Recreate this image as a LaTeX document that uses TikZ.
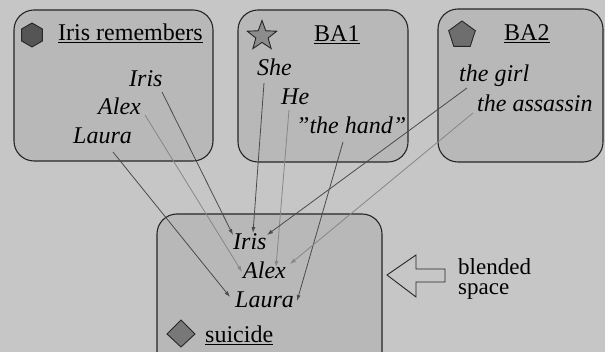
\documentclass[tikz,border=0pt]{standalone}
\usepackage{fontspec}
\setmainfont{Liberation Serif}
\usetikzlibrary{shapes.geometric,arrows.meta,calc}
\definecolor{bggray}{RGB}{198,198,198}
\definecolor{boxgray}{RGB}{184,184,184}
\definecolor{darkline}{RGB}{75,75,75}
\definecolor{lightline}{RGB}{135,135,135}
\definecolor{hexgray}{RGB}{85,85,85}
\definecolor{stargray}{RGB}{140,140,140}
\definecolor{pentgray}{RGB}{110,110,110}
\definecolor{diagray}{RGB}{120,120,120}
\begin{document}
\begin{tikzpicture}[x=1pt,y=-1pt,
  box/.style={draw=black!85,line width=1.1pt,fill=boxgray,rounded corners=20pt},
  lbl/.style={inner sep=0pt,anchor=base west,font=\fontsize{24}{29}\selectfont},
  itl/.style={inner sep=0pt,anchor=base west,font=\fontsize{24}{29}\selectfont\itshape},
  icon/.style={draw=black!85,line width=0.9pt,inner sep=0pt},
  dk/.style={draw=darkline,line width=0.8pt,-{Latex[length=6pt,width=4pt]}},
  lt/.style={dk,draw=lightline},
]
\fill[bggray] (0,0) rectangle (605,352);
\useasboundingbox (0,0) rectangle (605,352);
% boxes
\draw[box] (14,10) rectangle (213,161);
\draw[box] (238,10) rectangle (408,162);
\draw[box] (438,9) rectangle (603,162);
\draw[box] (157,214) rectangle (382,380);
% icons
\node[icon,regular polygon,regular polygon sides=6,shape border rotate=30,minimum size=24pt,fill=hexgray] (hex) at (32,35) {};
\node[icon,star,star points=5,star point ratio=2.4,minimum size=31pt,fill=stargray] (starA) at (262,36) {};
\node[icon,regular polygon,regular polygon sides=5,minimum size=28pt,fill=pentgray] (pent) at (462,35) {};
\draw[icon,fill=diagray] (181,320) -- (195,334) -- (181,347) -- (167,334) -- cycle;
% titles
\node[lbl] (t1) at (58,41) {\underline{Iris remembers}};
\node[lbl] (t2) at (314,42) {\underline{BA1}};
\node[lbl] (t3) at (504,41) {\underline{BA2}};
\node[lbl] (t4) at (205,343) {\underline{suicide}};
% box 1
\node[itl] (aIris) at (129,87) {Iris};
\node[itl] (aAlex) at (98,115) {Alex};
\node[itl] (aLaura) at (73,144) {Laura};
% box 2
\node[itl] (bShe) at (257,76) {She};
\node[itl] (bHe) at (281,105) {He};
\node[itl] (bHand) at (296,134) {''the hand''};
% box 3
\node[itl] (cGirl) at (459,82) {the girl};
\node[itl] (cAss) at (477,112) {the assassin};
% blended
\node[itl] (dIris) at (233,250) {Iris};
\node[itl] (dAlex) at (243,279) {Alex};
\node[itl] (dLaura) at (235,308) {Laura};
% block arrow and label
\draw[line width=0.9pt,draw=black!85,fill=bggray] (387,275) -- (416,255) -- (416,269) -- (445,269) -- (445,282) -- (416,282) -- (416,297) -- cycle;
\node[inner sep=0pt,anchor=north west,align=left,font=\fontsize{23}{20}\selectfont] (bl) at (458,258) {blended\\space};
% connectors
\draw[dk] ($(aIris.base west)+(33,5)$) -- ($(dIris.base west)+(0,-15)$);
\draw[lt] ($(aAlex.base west)+(47,0)$) -- ($(dAlex.base west)+(-1,-7)$);
\draw[dk] ($(aLaura.base west)+(40,8)$) -- ($(dLaura.base west)+(-5,-11)$);
\draw[dk] ($(bShe.base west)+(7,7)$) -- ($(dIris.base west)+(20,-17)$);
\draw[lt] ($(bHe.base west)+(8,5)$) -- ($(dAlex.base west)+(33,-12)$);
\draw[dk] ($(bHand.base west)+(47,8)$) -- ($(dLaura.base west)+(62,-7)$);
\draw[dk] ($(cGirl.base west)+(8,6)$) -- ($(dIris.base west)+(34,-15)$);
\draw[lt] ($(cAss.base west)+(-4,1)$) -- ($(dAlex.base west)+(47,-15)$);
\end{tikzpicture}
\end{document}
